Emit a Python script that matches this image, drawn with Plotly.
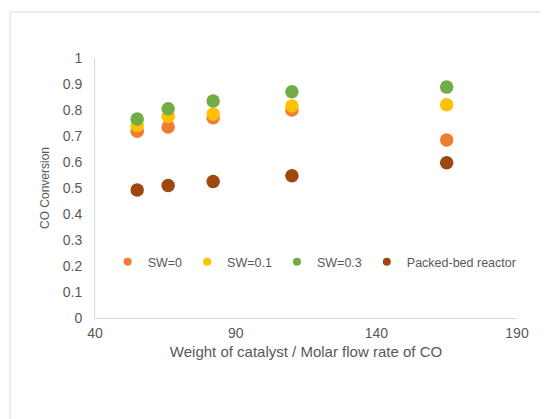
import plotly.graph_objects as go

x_vals = [55, 66, 82, 110, 165]
sw0 = [0.718, 0.735, 0.770, 0.800, 0.685]
sw01 = [0.740, 0.775, 0.785, 0.815, 0.820]
sw03 = [0.765, 0.805, 0.835, 0.870, 0.888]
packed = [0.492, 0.510, 0.525, 0.547, 0.597]

series = [
    ("SW=0", sw0, "#ED7D31"),
    ("SW=0.1", sw01, "#FFC000"),
    ("SW=0.3", sw03, "#70AD47"),
    ("Packed-bed reactor", packed, "#9E480E"),
]

fig = go.Figure()
for name, ys, col in series:
    fig.add_trace(go.Scatter(
        x=x_vals, y=ys, mode="markers", name=name, showlegend=False,
        marker=dict(size=13.5, color=col, line=dict(width=0)),
    ))
# legend-only entries with smaller symbols, as in the original
for name, ys, col in series:
    fig.add_trace(go.Scatter(
        x=[None], y=[None], mode="markers", name=name, showlegend=True,
        marker=dict(size=8, color=col, line=dict(width=0)),
    ))

gray = "#595959"
fig.update_layout(
    width=548, height=419,
    margin=dict(l=87, r=39, t=50, b=109),
    paper_bgcolor="white", plot_bgcolor="white",
    font=dict(family="Liberation Sans, Arial", size=12, color=gray),
    xaxis=dict(range=[40, 190], dtick=50, tick0=40, showgrid=False, zeroline=False,
               showline=True, linecolor="#D9D9D9", linewidth=1, ticks="",
               tickfont=dict(size=14, color=gray), ticklabelstandoff=2,
               title=dict(text="Weight of catalyst / Molar flow rate of CO",
                          font=dict(size=15, color=gray), standoff=6)),
    yaxis=dict(range=[0, 1], dtick=0.1, showgrid=False, zeroline=False,
               showline=True, linecolor="#D9D9D9", linewidth=1, ticks="",
               tickfont=dict(size=14, color=gray), ticklabelstandoff=9,
               title=dict(text="CO Conversion", font=dict(size=12, color=gray), standoff=10)),
    legend=dict(orientation="h", x=0.03, y=0.215, xanchor="left", yanchor="middle",
                bgcolor="rgba(0,0,0,0)", font=dict(size=12.5, color=gray),
                itemsizing="trace", itemwidth=30, tracegroupgap=0),
    showlegend=True,
    shapes=[dict(type="rect", xref="paper", yref="paper",
                 x0=-0.2014, x1=1.2, y0=-0.6, y1=1.177,
                 line=dict(color="#D9D9D9", width=1), fillcolor="rgba(0,0,0,0)")],
)

fig.write_html("out.html")
